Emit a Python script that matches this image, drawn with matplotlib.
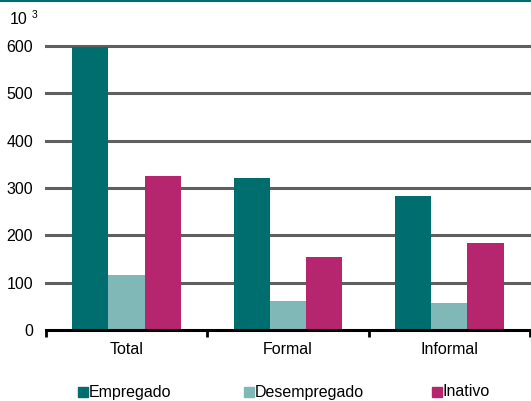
import matplotlib
matplotlib.use("Agg")
import matplotlib.pyplot as plt
import numpy as np
from matplotlib.patches import Rectangle
from matplotlib.lines import Line2D

plt.rcParams['font.family'] = ['Liberation Sans', 'DejaVu Sans']

categories = ["Total", "Formal", "Informal"]
series_names = ["Empregado", "Desempregado", "Inativo"]
empregado = [598, 322, 284]
desempregado = [117, 61, 57]
inativo = [326, 154, 183]
colors = ["#006E6E", "#80B8B8", "#B5266E"]
yticks = [0, 100, 200, 300, 400, 500, 600]

FS = 11.5
W, H = 531, 401
fig = plt.figure(figsize=(W/100, H/100), dpi=100)
left, right, bottom, top = 45.7, 531, 330, 46
ax = fig.add_axes([left/W, 1-bottom/H, (right-left)/W, (bottom-top)/H])

x = np.arange(len(categories))
bw = 0.224
for i, (vals, c) in enumerate(zip([empregado, desempregado, inativo], colors)):
    ax.bar(x + (i-1)*bw, vals, width=bw, color=c, edgecolor='none', zorder=2)

ax.set_xlim(-0.5, 2.506)
ax.set_ylim(0, 600)
ax.set_yticks(yticks)
ax.set_yticklabels([str(v) for v in yticks], fontsize=FS)
ax.tick_params(axis='y', length=0, pad=9)
for v in yticks[1:]:
    ax.axhline(v, color='#5f5f5f', lw=2.2, zorder=1, clip_on=False)

ax.set_xticks(x)
ax.set_xticklabels(categories, fontsize=FS)
ax.tick_params(axis='x', which='major', length=0, pad=9)
ax.set_xticks([-0.5, 0.5, 1.5, 2.5], minor=True)
ax.tick_params(axis='x', which='minor', length=5, width=2, color='black', direction='out')

for s in ['left', 'right', 'top']:
    ax.spines[s].set_visible(False)
ax.spines['bottom'].set_linewidth(2.2)
ax.spines['bottom'].set_color('black')
ax.spines['bottom'].set_zorder(3)

fig.text(10/W, 1-19/H, "10", fontsize=FS, va='center', ha='left')
fig.text(32/W, 1-15/H, "3", fontsize=7.5, va='center', ha='left')

fig.add_artist(Line2D([0, 1], [1-0.8/H, 1-0.8/H], color='#006E6E', lw=1.5, transform=fig.transFigure))

# legend (manual placement)
leg_x = [78, 244, 432]
for lx, name, c in zip(leg_x, series_names, colors):
    fig.add_artist(Rectangle((lx/W, 1-397/H), 10/W, 10/H, color=c, transform=fig.transFigure))
    fig.text((lx+11)/W, 1-392/H, name, fontsize=FS, va='center', ha='left')

fig.savefig("out.png", dpi=100)
